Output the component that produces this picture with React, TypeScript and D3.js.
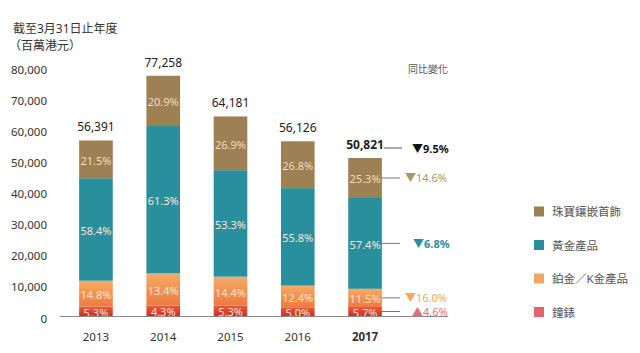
import * as d3 from "d3";

const years = ["2013", "2014", "2015", "2016", "2017"];
const totals = [56391, 77258, 64181, 56126, 50821];
// share of each product group, percent
const jewelryPct = [21.5, 20.9, 26.9, 26.8, 25.3];
const goldPct = [58.4, 61.3, 53.3, 55.8, 57.4];
const platinumPct = [14.8, 13.4, 14.4, 12.4, 11.5];
const watchPct = [5.3, 4.3, 5.3, 5.0, 5.7];
const yTicks = [0, 10000, 20000, 30000, 40000, 50000, 60000, 70000, 80000];

const seriesKeys = ["watch", "platinum", "gold", "jewelry"];
const seriesNames = ["鐘錶", "鉑金／K金產品", "黃金產品", "珠寶鑲嵌首飾"];
const pctByKey: Record<string, number[]> = {
  watch: watchPct,
  platinum: platinumPct,
  gold: goldPct,
  jewelry: jewelryPct,
};
// year-on-year change for 2017, per key, plus total
const changeTotal = "9.5%";
const changeByKey: Record<string, string> = {
  jewelry: "14.6%",
  gold: "6.8%",
  platinum: "16.0%",
  watch: "4.6%",
};
const changeUp: Record<string, boolean> = { jewelry: false, gold: false, platinum: false, watch: true };

const fill: Record<string, string> = {
  jewelry: "#9d8054",
  gold: "#2a8f9d",
  platinum: "url(#platGrad)",
  watch: "url(#watchGrad)",
};
const legendColor: Record<string, string> = {
  jewelry: "#9d8054",
  gold: "#2a8f9d",
  platinum: "#f2a662",
  watch: "#e2646a",
};
const changeColor: Record<string, string> = {
  jewelry: "#a8956b",
  gold: "#2a8f9d",
  platinum: "#f0a862",
  watch: "#e0707a",
};

const font = "'Noto Sans', 'Noto Sans CJK TC', sans-serif";

export default function App() {
  const rows = years.map((y, i) => {
    const r: any = { year: y };
    seriesKeys.forEach((k) => (r[k] = (totals[i] * pctByKey[k][i]) / 100));
    return r;
  });
  const stacked = d3.stack<any>().keys(seriesKeys)(rows);

  const x = d3.scaleBand().domain(years).range([45.5, 415.5]).padding(0.5);
  const y = d3.scaleLinear().domain([0, 80000]).range([316, 67]);
  const fmt = d3.format(",");
  const last = years.length - 1;
  const lastX = (x(years[last]) as number) + x.bandwidth();

  return (
    <svg width={640} height={353} style={{ position: "absolute", left: 0, top: 0 }} fontFamily={font}>
      <defs>
        <linearGradient id="platGrad" x1="0" y1="0" x2="0" y2="1">
          <stop offset="0" stopColor="#f5ab66" />
          <stop offset="1" stopColor="#ee7a40" />
        </linearGradient>
        <linearGradient id="watchGrad" x1="0" y1="0" x2="0" y2="1">
          <stop offset="0" stopColor="#ea5c38" />
          <stop offset="1" stopColor="#c9302c" />
        </linearGradient>
      </defs>
      <rect width={640} height={353} fill="#fff" />

      <text x={13} y={33} fontSize={12} fill="#333">截至3月31日止年度</text>
      <text x={9} y={50} fontSize={12} fill="#333">（百萬港元）</text>
      <text x={408} y={73} fontSize={10} fill="#555">同比變化</text>

      {yTicks.map((t) => (
        <text key={t} x={47} y={y(t) + 2} fontSize={11.5} fill="#333" textAnchor="end" dominantBaseline="central">
          {fmt(t)}
        </text>
      ))}

      {stacked.map((s) => (
        <g key={s.key}>
          {s.map((d, i) => {
            const top = y(d[1]);
            const bot = y(d[0]);
            return (
              <g key={i}>
                <rect x={x(years[i])} y={top} width={x.bandwidth()} height={bot - top} fill={fill[s.key]} />
                <text
                  x={(x(years[i]) as number) + x.bandwidth() / 2}
                  y={(top + bot) / 2 + 1}
                  fontSize={11}
                  fill={s.key === "jewelry" ? "#f4dcb8" : "#fbe3cf"}
                  textAnchor="middle"
                  dominantBaseline="central"
                >
                  {pctByKey[s.key][i].toFixed(1)}%
                </text>
              </g>
            );
          })}
        </g>
      ))}

      {totals.map((t, i) => (
        <text
          key={i}
          x={(x(years[i]) as number) + x.bandwidth() / 2}
          y={y(t) - 9}
          fontSize={12}
          fontWeight={i === last ? "bold" : "normal"}
          fill="#222"
          textAnchor="middle"
        >
          {fmt(t)}
        </text>
      ))}

      <line x1={60} x2={448} y1={316.5} y2={316.5} stroke="#8a8a8a" strokeWidth={1} />

      {years.map((yr, i) => (
        <text
          key={yr}
          x={(x(yr) as number) + x.bandwidth() / 2}
          y={341}
          fontSize={11.5}
          fontWeight={i === last ? "bold" : "normal"}
          fill="#333"
          textAnchor="middle"
        >
          {yr}
        </text>
      ))}

      {/* 2017 change callouts */}
      <line x1={lastX + 2} x2={402} y1={148} y2={148} stroke="#555" />
      <text x={412} y={148} fontSize={11} fontWeight="bold" fill="#111" dominantBaseline="central">
        ▼{changeTotal}
      </text>
      {stacked.map((s) => {
        const d = s[last];
        const mid = (y(d[0]) + y(d[1])) / 2;
        const tx = s.key === "gold" ? 413 : s.key === "watch" ? 412 : 405;
        return (
          <g key={s.key}>
            <line x1={lastX} x2={400} y1={mid} y2={mid} stroke="#777" />
            <text
              x={tx}
              y={mid}
              fontSize={11}
              fontWeight={s.key === "gold" ? "bold" : "normal"}
              fill={changeColor[s.key]}
              dominantBaseline="central"
            >
              {changeUp[s.key] ? "▲" : "▼"}
              {changeByKey[s.key]}
            </text>
          </g>
        );
      })}

      {seriesKeys.map((k, i) => {
        const ly = 312 - i * 33.5;
        return (
          <g key={k}>
            <rect x={534} y={ly - 5} width={10} height={10} fill={legendColor[k]} />
            <text x={552} y={ly} fontSize={11.5} fill="#555" dominantBaseline="central">
              {seriesNames[i]}
            </text>
          </g>
        );
      })}
    </svg>
  );
}
